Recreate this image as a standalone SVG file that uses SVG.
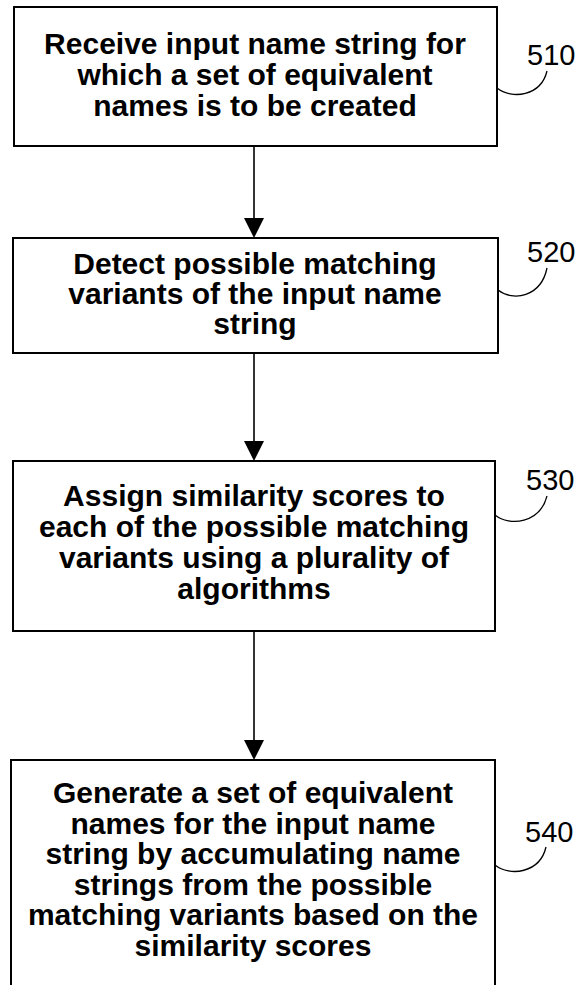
<svg xmlns="http://www.w3.org/2000/svg" width="579" height="985" viewBox="0 0 579 985">
<style>
.box{fill:#fff;stroke:#000;stroke-width:2}
.t{font-family:"Liberation Sans",Arial,sans-serif;font-weight:bold;font-size:30px;text-anchor:middle;fill:#000}
.lbl{font-family:"Liberation Sans",Arial,sans-serif;font-size:29px;fill:#000}
.lead{fill:none;stroke:#000;stroke-width:1.3}
.conn{stroke:#000;stroke-width:1.6;fill:none}
</style>
<rect width="579" height="985" fill="#fff"/>
<g id="connectors">
<line class="conn" x1="254" y1="146" x2="254" y2="222"/>
<polygon points="244,218 264,218 254,238"/>
<line class="conn" x1="254" y1="353" x2="254" y2="445"/>
<polygon points="244,441 264,441 254,461"/>
<line class="conn" x1="254" y1="631" x2="254" y2="743"/>
<polygon points="244,740 264,740 254,760"/>
</g>
<g id="n510">
<rect class="box" x="14" y="7" width="483" height="139"/>
<text class="t" x="255" y="54">Receive input name string for</text>
<text class="t" x="255" y="85">which a set of equivalent</text>
<text class="t" x="255" y="116">names is to be created</text>
<text class="lbl" x="527" y="65">510</text>
<path class="lead" d="M497,88 C512,100 541,96 547,71"/>
</g>
<g id="n520">
<rect class="box" x="13" y="238" width="485" height="115"/>
<text class="t" x="255" y="274">Detect possible matching</text>
<text class="t" x="255" y="304">variants of the input name</text>
<text class="t" x="255" y="334">string</text>
<text class="lbl" x="527" y="262">520</text>
<path class="lead" d="M498,290 C513,302 541,297 547,268"/>
</g>
<g id="n530">
<rect class="box" x="13" y="461" width="482" height="170"/>
<text class="t" x="254" y="506">Assign similarity scores to</text>
<text class="t" x="254" y="537">each of the possible matching</text>
<text class="t" x="254" y="568">variants using a plurality of</text>
<text class="t" x="254" y="599">algorithms</text>
<text class="lbl" x="526" y="490">530</text>
<path class="lead" d="M495,515 C510,527 540,523 547,496"/>
</g>
<g id="n540">
<rect class="box" x="11" y="760" width="484" height="240"/>
<text class="t" x="253" y="803">Generate a set of equivalent</text>
<text class="t" x="253" y="834">names for the input name</text>
<text class="t" x="253" y="864">string by accumulating name</text>
<text class="t" x="253" y="895">strings from the possible</text>
<text class="t" x="253" y="925">matching variants based on the</text>
<text class="t" x="253" y="956">similarity scores</text>
<text class="lbl" x="525" y="842">540</text>
<path class="lead" d="M495,865 C510,877 540,873 546,847"/>
</g>
</svg>
